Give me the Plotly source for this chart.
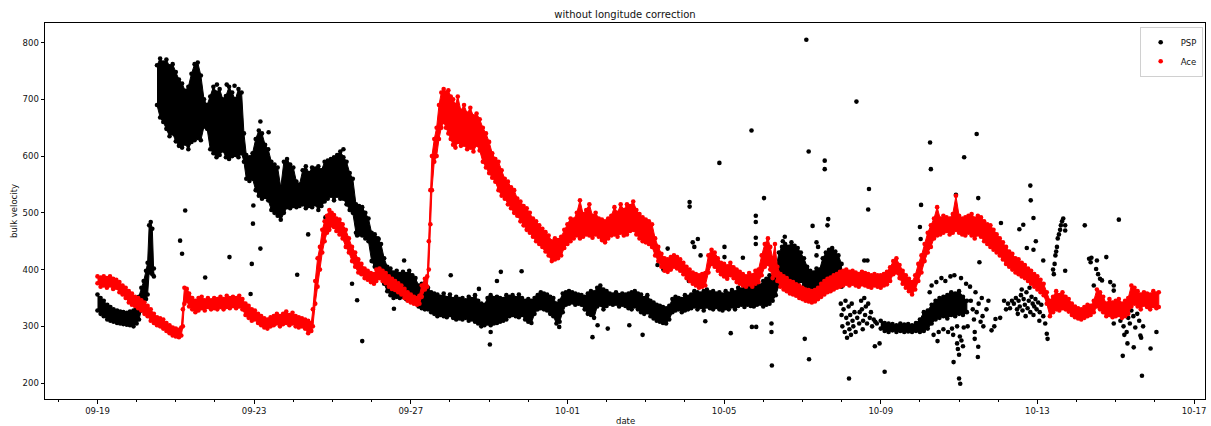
import pandas as pd
import plotly.graph_objects as go

START = pd.Timestamp("2022-09-19")

x_tick_days = [0, 4, 8, 12, 16, 20, 24, 28]
x_tick_labels = ["09-19", "09-23", "09-27", "10-01", "10-05", "10-09", "10-13", "10-17"]
y_ticks = [200, 300, 400, 500, 600, 700, 800]

# ---------------- PSP dense band (day offset from 09-19, lower / upper edge); None = gap
psp_band_day = [
    0.00, 0.08, 0.16, 0.25, 0.33, 0.41, 0.50, 0.58, 0.66, 0.75,
    0.83, 0.92, 1.00, 1.06, 1.12, 1.18, 1.24, 1.28, 1.32, 1.36,
    1.40, 1.44, None,
    1.52, 1.60, 1.68, 1.76, 1.84, 1.92, 2.00, 2.08, 2.16, 2.24,
    2.32, 2.40, 2.48, 2.56, 2.64, 2.72, 2.80, 2.88, 2.96, 3.04,
    3.12, 3.20, 3.28, 3.36, 3.44, 3.52, 3.60, 3.68, 3.74, 3.80,
    3.88, 3.96, 4.04, 4.12, 4.20, 4.28, 4.36, 4.44, 4.52, 4.60,
    4.68, 4.76, 4.84, 4.92, 5.00, 5.08, 5.16, 5.24, 5.32, 5.40,
    5.48, 5.56, 5.64, 5.72, 5.80, 5.88, 5.96, 6.04, 6.12, 6.20,
    6.28, 6.36, 6.44, 6.52, 6.60, 6.68, 6.76, 6.84, 6.92, 7.00,
    7.08, 7.16, 7.24, 7.32, 7.40, 7.48, 7.56, 7.64, 7.72, 7.80,
    7.88, 7.96, 8.04, 8.12, 8.20, 8.28, 8.36, 8.44, 8.52, 8.60,
    8.68, 8.76, 8.84, 8.92, 9.00, 9.08, 9.16, 9.24, 9.32, 9.40,
    9.48, 9.56, 9.64, 9.72, 9.80, 9.88, 9.96, 10.04, 10.12, 10.20,
    10.28, 10.36, 10.44, 10.52, 10.60, 10.68, 10.76, 10.84, 10.92, 11.00,
    11.08, 11.16, 11.24, 11.32, 11.40, 11.48, 11.56, 11.64, 11.72, 11.80,
    11.88, 11.96, 12.04, 12.12, 12.20, 12.28, 12.36, 12.44, 12.52, 12.60,
    12.68, 12.76, 12.84, 12.92, 13.00, 13.08, 13.16, 13.24, 13.32, 13.40,
    13.48, 13.56, 13.64, 13.72, 13.80, 13.88, 13.96, 14.04, 14.12, 14.20,
    14.28, 14.36, 14.44, 14.52, 14.60, 14.68, 14.76, 14.84, 14.92, 15.00,
    15.08, 15.16, 15.24, 15.32, 15.40, 15.48, 15.56, 15.64, 15.72, 15.80,
    15.88, 15.96, 16.04, 16.12, 16.20, 16.28, 16.36, 16.44, 16.52, 16.60,
    16.68, 16.76, 16.84, 16.92, 17.00, 17.08, 17.16, 17.24, 17.32, 17.40,
    17.48, 17.56, 17.64, 17.72, 17.80, 17.88, 17.96, 18.04, 18.12, 18.20,
    18.28, 18.36, 18.44, 18.52, 18.60, 18.68, 18.76, 18.84, 18.92, 19.00,
    None,
    20.00, 20.10, 20.20, 20.30, 20.40, 20.50, 20.60, 20.70, 20.80, 20.90,
    21.00, 21.10, 21.20, 21.30, 21.40, 21.50, 21.60, 21.70, 21.80, 21.90,
    22.00, 22.10, 22.20,
]
psp_band_lo = [
    328, 322, 318, 312, 310, 308, 306, 305, 304, 303,
    302, 300, 305, 312, 328, 338, 348, 356, 395, 400,
    392, 388, None,
    690, 668, 660, 648, 635, 640, 626, 618, 615, 622,
    612, 625, 628, 632, 628, 652, 648, 612, 605, 598,
    602, 610, 598, 595, 600, 602, 598, 605, 590, 560,
    556, 560, 540, 530, 525, 528, 522, 505, 500, 495,
    488, 500, 510, 508, 512, 510, 512, 515, 508, 512,
    510, 515, 505, 512, 520, 525, 530, 522, 530, 525,
    525, 515, 505, 500, 465, 462, 460, 455, 450, 415,
    405, 402, 400, 375, 362, 355, 350, 352, 350, 352,
    348, 350, 346, 345, 335, 332, 330, 330, 325, 322,
    318, 320, 318, 316, 320, 315, 312, 314, 312, 315,
    310, 312, 308, 305, 300, 302, 305, 302, 305, 306,
    308, 310, 312, 318, 320, 318, 316, 320, 312, 308,
    306, 322, 330, 332, 330, 328, 322, 318, 305, 308,
    325, 338, 340, 342, 338, 340, 338, 330, 322, 320,
    315, 335, 338, 330, 336, 340, 338, 340, 335, 338,
    336, 332, 330, 335, 330, 325, 322, 325, 318, 314,
    310, 308, 306, 305, 312, 325, 328, 330, 325, 328,
    330, 332, 335, 330, 334, 328, 335, 332, 330, 334,
    330, 328, 332, 330, 335, 330, 336, 338, 334, 338,
    336, 335, 338, 340, 335, 338, 340, 345, 355, 372,
    380, 385, 380, 382, 378, 375, 380, 372, 365, 362,
    360, 365, 362, 370, 380, 378, 382, 380, 375, 370,
    None,
    296, 292, 290, 293, 290, 292, 290, 291, 290, 292,
    290, 292, 296, 305, 312, 315, 318, 314, 320, 318,
    322, 320, 325,
]
psp_band_hi = [
    356, 350, 345, 338, 334, 330, 328, 326, 325, 324,
    326, 328, 340, 352, 368, 380, 398, 412, 478, 484,
    472, 402, None,
    760, 772, 765, 770, 758, 762, 748, 735, 728, 715,
    722, 745, 762, 765, 742, 700, 690, 705, 722, 712,
    718, 700, 706, 722, 712, 700, 718, 712, 640, 602,
    598, 605, 630, 645, 640, 620, 612, 590, 585, 580,
    545, 590, 595, 585, 580, 555, 550, 575, 582, 570,
    580, 578, 582, 575, 590, 592, 595, 598, 602, 608,
    598, 590, 570, 560, 515, 512, 510, 500, 490, 465,
    462, 455, 445, 420, 405, 402, 395, 398, 392, 396,
    392, 398, 390, 385, 372, 375, 370, 368, 360, 358,
    356, 352, 358, 350, 356, 348, 352, 348, 350, 346,
    352, 348, 355, 345, 340, 338, 350, 355, 350, 352,
    350, 348, 355, 352, 355, 350, 356, 350, 345, 348,
    345, 350, 355, 360, 358, 356, 352, 350, 340, 345,
    358, 360, 362, 360, 358, 356, 355, 352, 358, 362,
    360, 368, 372, 365, 362, 358, 356, 360, 355, 358,
    356, 358, 360, 362, 358, 356, 350, 355, 345, 342,
    338, 336, 334, 332, 336, 348, 352, 350, 348, 355,
    352, 356, 362, 360, 358, 362, 365, 360, 362, 358,
    360, 356, 362, 358, 364, 360, 368, 365, 370, 368,
    372, 370, 376, 372, 380, 384, 390, 388, 400, 430,
    440, 445, 440, 448, 442, 438, 430, 420, 405, 398,
    395, 402, 400, 420, 430, 435, 438, 432, 425, 410,
    None,
    310, 306, 305, 304, 302, 305, 303, 304, 302, 306,
    312, 325, 328, 338, 345, 350, 352, 355, 360, 358,
    362, 352, 345,
]

# ---------------- PSP isolated / scattered samples
psp_pts_day = [
    2.11, 2.16, 2.24, 2.75, 3.05, 3.30, 3.37, 3.50, 3.91, 3.94,
    3.97, 3.98, 4.16, 4.16, 4.37, 5.10, 5.38, 5.82, 6.28, 6.50,
    6.63, 6.63, 6.76, 7.18, 7.57, 7.83, 9.02, 9.74, 10.02, 10.04,
    10.20, 10.30, 10.83, 11.79, 12.64, 12.77, 13.03, 13.58, 13.92, 14.30,
    14.45, 14.56, 15.10, 15.12, 15.12, 15.20, 15.24, 15.33, 15.40, 15.52,
    15.88, 16.01, 16.01, 16.17, 16.48, 16.70, 16.71, 16.82, 16.81, 16.81,
    16.81, 16.81, 17.02, 17.21, 17.21, 17.22, 17.50, 17.55, 18.06, 18.10,
    18.16, 18.17, 18.26, 18.36, 18.36, 18.40, 18.57, 18.57, 18.64, 18.66,
    19.19, 19.38, 19.58, 19.66, 19.68, 19.70, 20.10, 21.00, 21.02, 21.03,
    21.26, 21.28, 21.45, 21.86, 21.92, 22.00, 22.03, 22.13, 22.45, 22.48,
    22.49, 22.49, 22.52, 22.83, 22.93, 23.07, 23.54, 23.64, 23.73, 23.82,
    23.83, 23.90, 23.90, 23.96, 24.15, 24.24, 24.26, 24.40, 24.42, 24.44,
    24.46, 24.48, 24.50, 24.52, 24.55, 24.58, 24.60, 24.63, 24.66, 24.71,
    24.71, 24.71, 25.21, 25.32, 25.36, 25.38, 25.44, 25.50, 25.52, 25.52,
    25.55, 25.60, 25.65, 25.76, 25.86, 25.95, 25.95, 25.95, 26.08, 26.18,
    26.46, 26.63, 26.67, 26.74, 26.89, 27.04, 26.12, 26.15, 26.20, 26.22,
    26.25, 26.28, 26.30, 26.32, 26.36, 26.40, 26.45, 26.50, 26.55, 26.60,
    26.65, 26.70, 18.98, 19.00, 19.02, 19.05, 19.08, 19.10, 19.12, 19.14,
    19.16, 19.18, 19.20, 19.22, 19.24, 19.26, 19.28, 19.30, 19.33, 19.36,
    19.40, 19.45, 19.46, 19.50, 19.52, 19.54, 19.55, 19.58, 19.60, 19.62,
    19.65, 19.68, 19.72, 19.75, 19.78, 19.82, 19.85, 19.86, 19.90, 19.97,
    21.25, 21.30, 21.35, 21.42, 21.48, 21.55, 21.60, 21.65, 21.72, 21.78,
    21.82, 21.85, 21.88, 21.95, 21.95, 21.97, 22.00, 22.02, 22.05, 22.06,
    22.10, 22.12, 22.18, 22.22, 22.28, 22.30, 22.35, 22.38, 22.40, 22.40,
    22.42, 22.45, 22.50, 22.55, 22.58, 22.60, 22.62, 22.70, 22.75, 22.90,
    23.05, 23.15, 23.20, 23.25, 23.30, 23.35, 23.40, 23.45, 23.48, 23.50,
    23.52, 23.55, 23.58, 23.60, 23.62, 23.65, 23.68, 23.70, 23.72, 23.75,
    23.78, 23.80, 23.82, 23.85, 23.88, 23.90, 23.92, 23.95, 23.98, 24.02,
    24.05, 24.06, 24.10, 24.15, 24.20,
]
psp_pts_val = [
    451, 428, 504, 386, 726, 726, 422, 724, 357, 410,
    481, 513, 437, 661, 642, 391, 462, 492, 612, 375,
    346, 460, 274, 454, 331, 416, 390, 366, 268, 290,
    380, 396, 397, 299, 281, 302, 296, 302, 285, 408,
    400, 437, 380, 519, 511, 448, 440, 454, 425, 309,
    588, 440, 422, 288, 421, 645, 299, 299, 495, 484,
    456, 445, 526, 290, 305, 231, 450, 458, 278, 805,
    608, 242, 477, 448, 425, 440, 592, 577, 478, 489,
    208, 696, 416, 416, 506, 542, 220, 475, 454, 514,
    624, 577, 274, 237, 532, 208, 199, 598, 639, 246,
    264, 526, 413, 293, 313, 482, 471, 479, 438, 548,
    522, 491, 435, 450, 416, 287, 278, 400, 392, 410,
    425, 432, 440, 455, 462, 470, 478, 485, 490, 478,
    469, 398, 478, 419, 413, 421, 372, 401, 416, 349,
    392, 384, 381, 422, 378, 372, 363, 305, 488, 248,
    263, 284, 213, 354, 261, 290, 310, 320, 300, 285,
    325, 290, 270, 315, 305, 328, 318, 298, 322, 310,
    280, 300, 340, 320, 300, 330, 290, 345, 315, 280,
    305, 335, 295, 320, 285, 340, 310, 300, 325, 290,
    315, 305, 325, 345, 330, 295, 310, 350, 320, 335,
    305, 340, 315, 325, 300, 312, 265, 308, 305, 270,
    360, 372, 285, 378, 290, 385, 295, 380, 290, 388,
    296, 285, 390, 300, 270, 260, 250, 282, 385, 275,
    265, 298, 375, 300, 370, 345, 330, 312, 290, 278,
    360, 325, 340, 308, 350, 318, 300, 330, 345, 300,
    315, 345, 330, 340, 332, 345, 340, 350, 330, 322,
    345, 335, 355, 365, 328, 348, 338, 318, 360, 332,
    345, 368, 325, 352, 340, 320, 335, 348, 330, 342,
    310, 325, 338, 318, 305,
]

# ---------------- Ace band (day offset, lower / upper edge)
ace_day = [
    0.00, 0.08, 0.16, 0.24, 0.32, 0.40, 0.48, 0.56, 0.64, 0.72,
    0.80, 0.88, 0.96, 1.04, 1.12, 1.20, 1.28, 1.36, 1.44, 1.52,
    1.60, 1.68, 1.76, 1.84, 1.92, 2.00, 2.08, 2.14, 2.18, 2.22,
    2.28, 2.34, 2.42, 2.50, 2.58, 2.66, 2.74, 2.82, 2.90, 2.98,
    3.06, 3.14, 3.22, 3.30, 3.38, 3.46, 3.54, 3.62, 3.70, 3.78,
    3.86, 3.94, 4.02, 4.10, 4.18, 4.26, 4.34, 4.42, 4.50, 4.58,
    4.66, 4.74, 4.82, 4.90, 4.98, 5.06, 5.14, 5.22, 5.30, 5.38,
    5.46, 5.50, 5.56, 5.62, 5.68, 5.74, 5.80, 5.86, 5.92, 5.98,
    6.04, 6.10, 6.18, 6.26, 6.34, 6.42, 6.50, 6.58, 6.66, 6.74,
    6.82, 6.90, 6.98, 7.06, 7.12, 7.20, 7.28, 7.36, 7.44, 7.52,
    7.60, 7.68, 7.76, 7.84, 7.92, 8.00, 8.08, 8.16, 8.22, 8.28,
    8.36, 8.42, 8.46, 8.50, 8.54, 8.60, 8.66, 8.72, 8.78, 8.84,
    8.90, 8.96, 9.02, 9.08, 9.14, 9.20, 9.28, 9.36, 9.44, 9.52,
    9.60, 9.68, 9.76, 9.84, 9.92, 10.00, 10.08, 10.16, 10.24, 10.32,
    10.40, 10.48, 10.56, 10.64, 10.72, 10.80, 10.88, 10.96, 11.04, 11.12,
    11.20, 11.28, 11.36, 11.44, 11.52, 11.60, 11.68, 11.76, 11.84, 11.92,
    12.00, 12.08, 12.16, 12.24, 12.32, 12.40, 12.48, 12.56, 12.64, 12.72,
    12.80, 12.88, 12.96, 13.04, 13.12, 13.20, 13.28, 13.36, 13.44, 13.52,
    13.60, 13.68, 13.76, 13.84, 13.92, 14.00, 14.08, 14.16, 14.24, 14.32,
    14.40, 14.48, 14.56, 14.64, 14.72, 14.80, 14.88, 14.96, 15.04, 15.12,
    15.20, 15.28, 15.36, 15.44, 15.52, 15.60, 15.68, 15.76, 15.84, 15.92,
    16.00, 16.08, 16.16, 16.24, 16.32, 16.40, 16.48, 16.56, 16.64, 16.72,
    16.80, 16.88, 16.96, 17.04, 17.12, 17.18, 17.24, 17.30, 17.36, 17.44,
    17.52, 17.60, 17.68, 17.76, 17.84, 17.92, 18.00, 18.08, 18.16, 18.24,
    18.32, 18.40, 18.48, 18.56, 18.64, 18.72, 18.80, 18.88, 18.96, 19.04,
    19.12, 19.20, 19.28, 19.36, 19.44, 19.52, 19.60, 19.68, 19.76, 19.84,
    19.92, 20.00, 20.08, 20.16, 20.24, 20.32, 20.40, 20.48, 20.56, 20.64,
    20.72, 20.80, 20.88, 20.96, 21.04, 21.12, 21.20, 21.28, 21.36, 21.44,
    21.52, 21.60, 21.68, 21.76, 21.84, 21.92, 22.00, 22.08, 22.16, 22.24,
    22.32, 22.40, 22.48, 22.56, 22.64, 22.72, 22.80, 22.88, 22.96, 23.04,
    23.12, 23.20, 23.28, 23.36, 23.44, 23.52, 23.60, 23.68, 23.76, 23.84,
    23.92, 24.00, 24.08, 24.16, 24.24, 24.32, 24.40, 24.48, 24.56, 24.64,
    24.72, 24.80, 24.88, 24.96, 25.04, 25.12, 25.20, 25.28, 25.36, 25.44,
    25.52, 25.60, 25.68, 25.76, 25.84, 25.92, 26.00, 26.08, 26.16, 26.24,
    26.32, 26.40, 26.48, 26.56, 26.64, 26.72, 26.80, 26.88, 26.96, 27.04,
    27.10,
]
ace_lo = [
    376, 370, 372, 368, 372, 366, 368, 360, 356, 350,
    342, 338, 336, 332, 328, 322, 318, 310, 306, 302,
    300, 296, 292, 288, 284, 282, 281, 284, 300, 340,
    345, 335, 330, 325, 328, 332, 328, 334, 330, 332,
    330, 334, 330, 334, 332, 336, 332, 335, 330, 320,
    315, 310, 312, 306, 302, 298, 296, 300, 302, 305,
    300, 304, 306, 302, 305, 300, 298, 300, 296, 288,
    292, 300, 340, 370, 400, 430, 450, 465, 470, 478,
    475, 468, 462, 455, 440, 430, 415, 405, 395, 392,
    385, 382, 378, 375, 380, 385, 380, 376, 370, 366,
    364, 360, 356, 350, 345, 342, 340, 338, 340, 352,
    365, 370, 400, 480, 540, 590, 600, 630, 650, 660,
    650, 640, 630, 620, 615, 625, 618, 620, 612, 615,
    608, 620, 610, 590, 580, 570, 562, 555, 540, 530,
    525, 515, 508, 500, 495, 485, 478, 470, 465, 458,
    450, 445, 440, 432, 425, 415, 418, 420, 425, 438,
    445, 450, 455, 460, 455, 458, 462, 460, 456, 462,
    458, 452, 448, 455, 460, 462, 458, 465, 460, 462,
    468, 470, 462, 455, 450, 448, 445, 440, 425, 415,
    405, 398, 396, 400, 405, 402, 398, 392, 385, 380,
    375, 372, 368, 370, 372, 395, 410, 405, 398, 392,
    388, 384, 390, 385, 378, 375, 372, 370, 374, 370,
    375, 378, 390, 405, 410, 400, 385, 390, 380, 370,
    365, 362, 358, 356, 354, 350, 348, 345, 344, 342,
    344, 348, 352, 356, 360, 362, 365, 368, 370, 372,
    375, 372, 375, 372, 370, 374, 372, 370, 368, 372,
    370, 368, 372, 374, 380, 392, 395, 385, 375, 368,
    362, 356, 365, 380, 395, 415, 430, 440, 455, 460,
    462, 465, 468, 462, 465, 470, 465, 462, 460, 465,
    460, 455, 462, 458, 450, 445, 440, 435, 430, 425,
    418, 410, 405, 400, 395, 392, 388, 385, 380, 375,
    370, 365, 360, 355, 340, 318, 325, 330, 328, 332,
    330, 326, 320, 316, 314, 312, 315, 318, 320, 325,
    335, 330, 325, 318, 320, 316, 318, 320, 315, 318,
    322, 335, 340, 335, 330, 338, 334, 330, 336, 332,
    334,
]
ace_hi = [
    388, 386, 388, 385, 388, 384, 382, 378, 372, 368,
    362, 358, 352, 350, 346, 342, 336, 330, 322, 316,
    314, 312, 306, 302, 298, 296, 294, 298, 330, 368,
    366, 358, 350, 345, 350, 352, 346, 350, 346, 350,
    348, 352, 348, 354, 350, 352, 350, 354, 348, 340,
    336, 330, 328, 322, 318, 314, 312, 316, 318, 322,
    318, 322, 326, 320, 324, 318, 316, 314, 312, 310,
    306, 330, 380, 420, 440, 470, 485, 495, 505, 500,
    496, 490, 488, 480, 470, 455, 440, 430, 418, 410,
    402, 398, 394, 392, 400, 402, 398, 394, 388, 384,
    380, 376, 372, 366, 360, 356, 352, 350, 354, 372,
    384, 388, 450, 540, 600, 630, 650, 690, 712, 718,
    712, 716, 705, 700, 690, 705, 680, 690, 675, 685,
    670, 675, 665, 650, 640, 625, 605, 595, 590, 575,
    560, 555, 545, 540, 525, 520, 512, 508, 500, 490,
    485, 478, 472, 466, 460, 450, 455, 452, 458, 470,
    480, 490, 488, 500, 522, 498, 505, 515, 495, 500,
    490, 488, 485, 490, 495, 510, 500, 515, 505, 515,
    512, 520, 505, 498, 492, 488, 485, 480, 455, 440,
    428, 420, 418, 422, 425, 422, 418, 412, 405, 400,
    395, 392, 390, 392, 394, 425, 435, 430, 420, 412,
    410, 406, 412, 404, 400, 396, 392, 388, 394, 390,
    398, 400, 425, 445, 455, 440, 420, 445, 405, 392,
    388, 385, 380, 378, 374, 372, 368, 365, 364, 362,
    364, 368, 375, 380, 384, 386, 390, 392, 396, 398,
    400, 396, 398, 395, 392, 396, 394, 392, 390, 392,
    390, 390, 392, 396, 404, 415, 420, 408, 398, 390,
    384, 378, 390, 410, 425, 445, 465, 478, 490, 510,
    490, 495, 492, 490, 498, 530, 495, 490, 492, 495,
    498, 490, 495, 492, 485, 480, 478, 470, 462, 455,
    448, 440, 432, 428, 420, 418, 412, 408, 402, 398,
    392, 388, 382, 375, 360, 345, 352, 362, 355, 360,
    352, 348, 340, 335, 332, 330, 334, 338, 336, 345,
    365, 360, 352, 340, 348, 342, 345, 348, 340, 345,
    350, 372, 368, 362, 356, 360, 358, 356, 362, 358,
    360,
]

assert len(psp_band_day) == len(psp_band_lo) == len(psp_band_hi)
assert len(psp_pts_day) == len(psp_pts_val)
assert len(ace_day) == len(ace_lo) == len(ace_hi)


def to_time(days):
    return [None if d is None else START + pd.Timedelta(days=d) for d in days]


def band_outline(day, lo, hi):
    xs, ys, seg = [], [], []
    for d, l, h in zip(day + [None], lo + [None], hi + [None]):
        if d is None:
            if seg:
                ds = [s[0] for s in seg]
                xs += ds + ds[::-1] + [None]
                ys += [s[2] for s in seg] + [s[1] for s in seg][::-1] + [None]
            seg = []
        else:
            seg.append((d, l, h))
    return to_time(xs), ys


def edges(day, lo, hi):
    xs, ys = [], []
    for d, l, h in zip(day, lo, hi):
        if d is None:
            continue
        xs += [d, d]
        ys += [l, h]
    return to_time(xs), ys


MS = 4.6
fig = go.Figure()

bx, by = band_outline(psp_band_day, psp_band_lo, psp_band_hi)
fig.add_trace(go.Scatter(x=bx, y=by, mode="lines", fill="toself", fillcolor="black",
                         line=dict(color="black", width=1), showlegend=False, hoverinfo="skip"))
ex, ey = edges(psp_band_day, psp_band_lo, psp_band_hi)
fig.add_trace(go.Scatter(x=ex, y=ey, mode="markers", marker=dict(color="black", size=MS),
                         showlegend=False, hoverinfo="skip"))
fig.add_trace(go.Scatter(x=to_time(psp_pts_day), y=psp_pts_val, mode="markers", name="PSP",
                         marker=dict(color="black", size=MS)))

ax, ay = band_outline(ace_day, ace_lo, ace_hi)
fig.add_trace(go.Scatter(x=ax, y=ay, mode="lines", fill="toself", fillcolor="red",
                         line=dict(color="red", width=1), showlegend=False, hoverinfo="skip"))
aex, aey = edges(ace_day, ace_lo, ace_hi)
fig.add_trace(go.Scatter(x=aex, y=aey, mode="markers", name="Ace",
                         marker=dict(color="red", size=MS)))

L, R, T, B = 45, 6, 23, 27
PW, PH = 1211 - L - R, 426 - T - B

fig.update_layout(
    width=1211, height=426,
    margin=dict(l=L, r=R, t=T, b=B, autoexpand=False),
    paper_bgcolor="white", plot_bgcolor="white",
    font=dict(family="DejaVu Sans", size=8.5, color="#111"),
    title=dict(text="without longitude correction", x=(L + PW / 2) / 1211, xanchor="center",
               y=1 - 14 / 426, yanchor="middle", font=dict(size=10, color="#111")),
    legend=dict(x=0.998, y=0.99, xanchor="right", yanchor="top", bgcolor="white",
                bordercolor="#d0d0d0", borderwidth=1, font=dict(size=8.5),
                traceorder="normal", tracegroupgap=0, itemwidth=30),
    annotations=[
        dict(text="date", xref="paper", yref="paper", x=0.5, y=-(421 - (T + PH)) / PH,
             xanchor="center", yanchor="middle", showarrow=False, font=dict(size=8.5)),
        dict(text="bulk velocity", xref="paper", yref="paper", x=-(L - 14) / PW, y=0.5,
             xanchor="center", yanchor="middle", textangle=-90, showarrow=False,
             font=dict(size=8.5)),
    ],
)
fig.update_xaxes(
    type="date", automargin=False,
    range=[START + pd.Timedelta(days=-1.34), START + pd.Timedelta(days=28.28)],
    tickvals=to_time(x_tick_days), ticktext=x_tick_labels,
    showline=True, linecolor="black", linewidth=1, mirror=True,
    ticks="outside", ticklen=3.5, tickcolor="black", showgrid=False, zeroline=False,
    minor=dict(ticks="outside", ticklen=2, tickcolor="black",
               dtick=86400000, tick0=START, showgrid=False),
)
fig.update_yaxes(
    automargin=False,
    range=[172, 834.5], tickvals=y_ticks,
    showline=True, linecolor="black", linewidth=1, mirror=True,
    ticks="outside", ticklen=3.5, tickcolor="black", showgrid=False, zeroline=False,
)

fig.write_html("out.html", config={"displayModeBar": False},
               post_script="document.body.style.margin='0';document.body.style.overflow='hidden';")
